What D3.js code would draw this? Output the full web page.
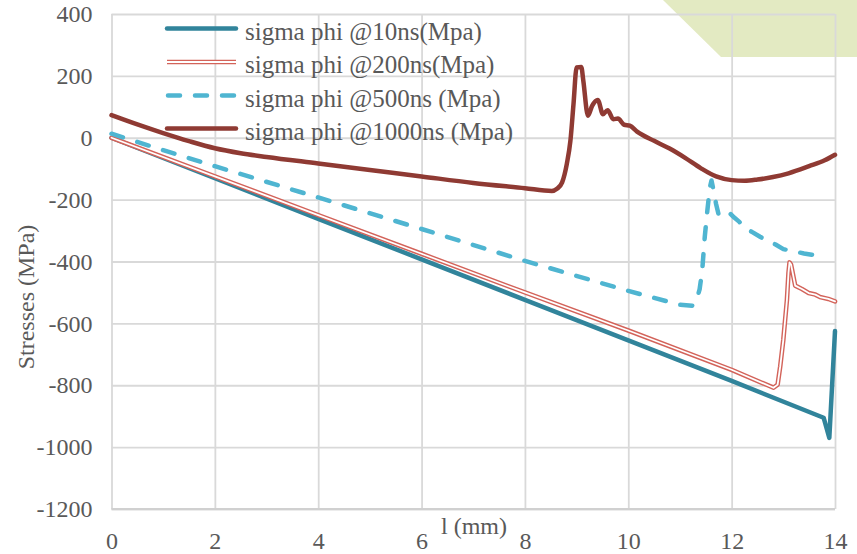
<!DOCTYPE html>
<html>
<head>
<meta charset="utf-8">
<script src="https://cdn.jsdelivr.net/npm/d3@7"></script>
<style>
  html, body { margin: 0; padding: 0; background: #ffffff; }
  svg { display: block; }
  text { font-family: "Liberation Serif", "Times New Roman", serif; fill: #595959; }
</style>
</head>
<body>
<svg id="chart" width="857" height="554"></svg>
<script>
// ---- data ----
const xTicks = [0, 2, 4, 6, 8, 10, 12, 14];
const yTicks = [400, 200, 0, -200, -400, -600, -800, -1000, -1200];

const seriesNames = [
  "sigma phi @10ns(Mpa)",
  "sigma phi @200ns(Mpa)",
  "sigma phi @500ns (Mpa)",
  "sigma phi @1000ns (Mpa)"
];

const x10 = [0, 2, 4, 6, 8, 10, 12, 13.78, 13.89, 14];
const y10 = [0, -131, -262, -393, -524, -655, -786, -905, -970, -625];

const x200 = [0, 2, 4, 6, 8, 10, 12, 12.81, 12.89, 12.94, 13.0, 13.07, 13.1, 13.12, 13.15, 13.23, 13.36, 13.49, 13.62, 13.71, 13.87, 14.0];
const y200 = [0, -125, -250, -375, -500, -623, -750, -808, -798, -739, -653, -524, -437, -403, -410, -478, -489, -502, -507, -515, -521, -529];

const x500 = [0, 1, 2, 4, 6, 8, 10, 11, 11.25, 11.32, 11.38, 11.43, 11.48, 11.53, 11.58, 11.61, 11.65, 11.7, 11.75, 11.85, 11.94, 12.05, 12.15, 12.26, 12.4, 12.55, 12.68, 12.85, 13.0, 13.2, 13.4, 13.55, 13.78];
const y500 = [13, -40, -92, -193, -295, -398, -495, -540, -543, -525, -490, -430, -320, -235, -160, -138, -170, -215, -250, -247, -240, -258, -272, -292, -305, -320, -332, -345, -360, -367, -374, -378, -376];

const x1000 = [0, 0.5, 1, 1.5, 2, 2.5, 3, 4, 5, 6, 7, 8, 8.52, 8.62, 8.72, 8.81, 8.88, 8.94, 9.0, 9.09, 9.13, 9.22, 9.3, 9.41, 9.51, 9.6, 9.71, 9.8, 9.92, 10.03, 10.17, 10.5, 10.8, 11.1, 11.4, 11.7, 12.0, 12.25, 12.5, 12.8, 13.1, 13.5, 13.8, 14];
const y1000 = [73, 43, 15, -11, -34, -50, -62, -83, -104, -125, -146, -163, -172, -165, -144, -85, -10, 109, 227, 229, 184, 71, 103, 122, 76, 89, 60, 62, 42, 39, 20, -10, -35, -65, -98, -125, -137, -139, -135, -127, -115, -92, -73, -55];

const xTitle = "l (mm)";
const yTitle = "Stresses (MPa)";

// ---- layout ----
const svg = d3.select("#chart");
const pLeft = 111.5, pRight = 835, pTop = 14, pBottom = 509;

const x = d3.scaleLinear().domain([0, 14]).range([pLeft, pRight]);
const y = d3.scaleLinear().domain([-1200, 400]).range([pBottom, pTop]);

// decorative shape top-right
svg.append("polygon")
  .attr("points", "663,0 857,0 857,57 721,57")
  .attr("fill", "#e3eac2");

// y axis with gridlines
const yAxis = svg.append("g")
  .attr("transform", `translate(${pLeft},0)`)
  .call(d3.axisLeft(y).tickValues(yTicks).tickSize(-(pRight - pLeft)).tickPadding(19).tickFormat(d3.format("d")));
yAxis.select(".domain").remove();
yAxis.selectAll(".tick line").attr("stroke", "#d9d9d9").attr("stroke-width", 1.8);
yAxis.selectAll(".tick text").attr("font-size", "24px")
  .text(d => d < 0 ? "-" + Math.abs(d) : d);

// x axis with gridlines
const xAxis = svg.append("g")
  .attr("transform", `translate(0,${pBottom})`)
  .call(d3.axisBottom(x).tickValues(xTicks).tickSize(-(pBottom - pTop)).tickPadding(23));
xAxis.select(".domain").remove();
xAxis.selectAll(".tick line").attr("stroke", "#d9d9d9").attr("stroke-width", 1.8);
xAxis.selectAll(".tick text").attr("font-size", "24px");

// bottom axis line
svg.append("line")
  .attr("x1", pLeft).attr("x2", pRight).attr("y1", pBottom).attr("y2", pBottom)
  .attr("stroke", "#d0d0d0").attr("stroke-width", 2);

// axis titles
svg.append("text")
  .attr("x", 474).attr("y", 534)
  .attr("text-anchor", "middle")
  .attr("font-size", "24px")
  .text(xTitle);

svg.append("text")
  .attr("transform", "translate(34,297) rotate(-90)")
  .attr("text-anchor", "middle")
  .attr("font-size", "24px")
  .text(yTitle);

// ---- series ----
const line = d3.line().x(d => x(d[0])).y(d => y(d[1]));
const smooth = d3.line().curve(d3.curveMonotoneX).x(d => x(d[0])).y(d => y(d[1]));
const zip = (xs, ys) => xs.map((v, i) => [v, ys[i]]);

const g = svg.append("g").attr("fill", "none").attr("stroke-linejoin", "round").attr("stroke-linecap", "round");

// 10ns
g.append("path").attr("d", line(zip(x10, y10)))
  .attr("stroke", "#31849b").attr("stroke-width", 4.5);

// 200ns (double line)
g.append("path").attr("d", line(zip(x200, y200)))
  .attr("stroke", "#d3635a").attr("stroke-width", 4.6);
g.append("path").attr("d", line(zip(x200, y200)))
  .attr("stroke", "#ffffff").attr("stroke-width", 1.8);

// 500ns dashed
g.append("path").attr("d", line(zip(x500, y500)))
  .attr("stroke", "#4fb5d1").attr("stroke-width", 4.5)
  .attr("stroke-dasharray", "12,15").attr("stroke-linecap", "round");

// 1000ns
g.append("path").attr("d", smooth(zip(x1000, y1000)))
  .attr("stroke", "#8f3a33").attr("stroke-width", 4.5);

// ---- legend ----
const legY = [28.5, 62, 95.5, 128.5];
const lx1 = 167, lx2 = 236, tx = 245;
const leg = svg.append("g");
seriesNames.forEach((name, i) => {
  const yy = legY[i];
  if (i === 0) {
    leg.append("line").attr("x1", lx1).attr("x2", lx2).attr("y1", yy).attr("y2", yy)
      .attr("stroke", "#31849b").attr("stroke-width", 4.5).attr("stroke-linecap", "round");
  } else if (i === 1) {
    leg.append("line").attr("x1", lx1).attr("x2", lx2).attr("y1", yy).attr("y2", yy)
      .attr("stroke", "#d3635a").attr("stroke-width", 4.6);
    leg.append("line").attr("x1", lx1).attr("x2", lx2).attr("y1", yy).attr("y2", yy)
      .attr("stroke", "#ffffff").attr("stroke-width", 1.8);
  } else if (i === 2) {
    leg.append("line").attr("x1", lx1 + 1).attr("x2", lx2).attr("y1", yy).attr("y2", yy)
      .attr("stroke", "#4fb5d1").attr("stroke-width", 4.5).attr("stroke-linecap", "round")
      .attr("stroke-dasharray", "12,15");
  } else {
    leg.append("line").attr("x1", lx1).attr("x2", lx2).attr("y1", yy).attr("y2", yy)
      .attr("stroke", "#8f3a33").attr("stroke-width", 4.5).attr("stroke-linecap", "round");
  }
  leg.append("text").attr("x", tx).attr("y", yy + 11)
    .attr("font-size", "25px").text(name);
});
</script>
</body>
</html>
